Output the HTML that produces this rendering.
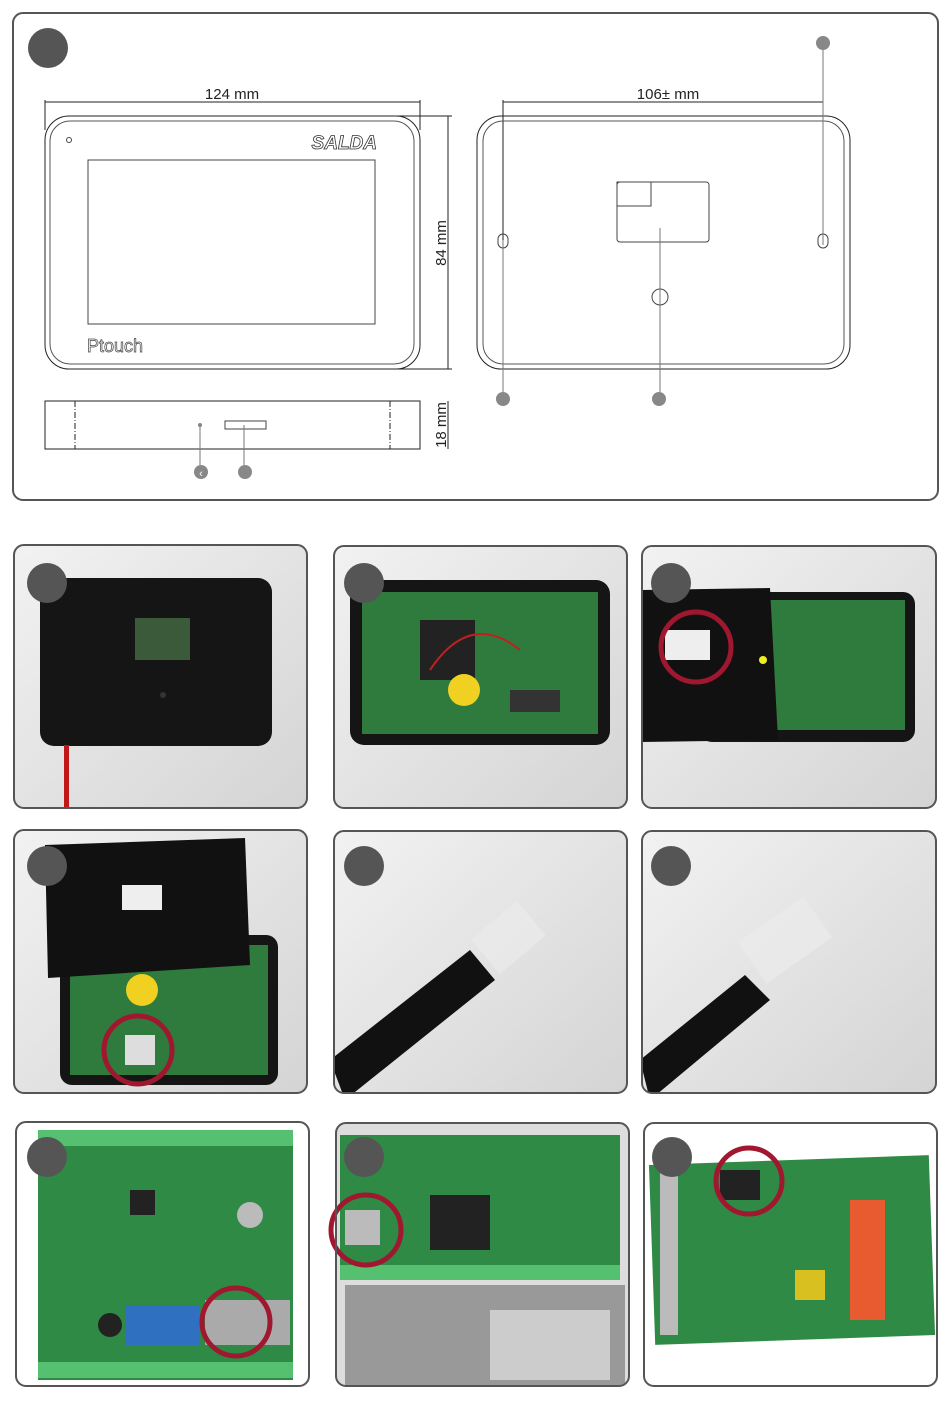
<!DOCTYPE html>
<html><head><meta charset="utf-8"><style>
html,body{margin:0;padding:0;background:#fff}
svg{display:block}
text{font-family:"Liberation Sans",sans-serif}
</style></head><body>
<svg width="950" height="1403" viewBox="0 0 950 1403" xmlns="http://www.w3.org/2000/svg">
<defs>
<linearGradient id="bg" x1="0" y1="0" x2="1" y2="1"><stop offset="0" stop-color="#f2f2f2"/><stop offset="1" stop-color="#d4d4d4"/></linearGradient>
<clipPath id="c1"><rect x="14" y="545" width="293" height="263" rx="10"/></clipPath>
<clipPath id="c2"><rect x="334" y="546" width="293" height="262" rx="10"/></clipPath>
<clipPath id="c3"><rect x="642" y="546" width="294" height="262" rx="10"/></clipPath>
<clipPath id="c4"><rect x="14" y="830" width="293" height="263" rx="10"/></clipPath>
<clipPath id="c5"><rect x="334" y="831" width="293" height="262" rx="10"/></clipPath>
<clipPath id="c6"><rect x="642" y="831" width="294" height="262" rx="10"/></clipPath>
<clipPath id="c7"><rect x="16" y="1122" width="293" height="264" rx="10"/></clipPath>
<clipPath id="c8"><rect x="336" y="1123" width="293" height="263" rx="10"/></clipPath>
<clipPath id="c9"><rect x="644" y="1123" width="293" height="263" rx="10"/></clipPath>
</defs>

<!-- Top panel -->
<rect x="13" y="13" width="925" height="487" rx="10" fill="#fff" stroke="#555" stroke-width="2"/>
<circle cx="48" cy="48" r="20" fill="#555"/>
<!-- front view -->
<line x1="45" y1="102" x2="420" y2="102" stroke="#222"/>
<line x1="45" y1="100" x2="45" y2="130" stroke="#222"/>
<line x1="420" y1="100" x2="420" y2="130" stroke="#222"/>
<text x="232" y="99" font-size="15" text-anchor="middle" fill="#222">124 mm</text>
<rect x="45" y="116" width="375" height="253" rx="24" fill="none" stroke="#222"/>
<rect x="50" y="121" width="364" height="243" rx="20" fill="none" stroke="#555"/>
<circle cx="69" cy="140" r="2.5" fill="none" stroke="#444"/>
<text x="377" y="149" font-size="19" font-style="italic" font-weight="bold" text-anchor="end" fill="#fff" stroke="#333" stroke-width="0.8">SALDA</text>
<rect x="88" y="160" width="287" height="164" fill="none" stroke="#444"/>
<text x="87" y="352" font-size="18" fill="#fff" stroke="#444" stroke-width="0.7">Ptouch</text>
<line x1="395" y1="116" x2="452" y2="116" stroke="#222"/>
<line x1="395" y1="369" x2="452" y2="369" stroke="#222"/>
<line x1="448" y1="116" x2="448" y2="369" stroke="#222"/>
<text transform="translate(446,243) rotate(-90)" font-size="15" text-anchor="middle" fill="#222">84 mm</text>
<!-- side view -->
<rect x="45" y="401" width="375" height="48" fill="none" stroke="#222"/>
<line x1="75" y1="401" x2="75" y2="449" stroke="#222" stroke-dasharray="6,2,1,2"/>
<line x1="390" y1="401" x2="390" y2="449" stroke="#222" stroke-dasharray="6,2,1,2"/>
<rect x="225" y="421" width="41" height="8" fill="none" stroke="#444"/>
<circle cx="200" cy="425" r="2" fill="#888"/>
<line x1="200" y1="425" x2="200" y2="465" stroke="#777"/>
<line x1="244" y1="425" x2="244" y2="465" stroke="#777"/>
<circle cx="201" cy="472" r="7" fill="#888"/>
<text x="201" y="477" font-size="11" fill="#fff" text-anchor="middle">‹</text>
<circle cx="245" cy="472" r="7" fill="#888"/>
<line x1="448" y1="401" x2="448" y2="449" stroke="#222"/>
<text transform="translate(446,425) rotate(-90)" font-size="15" text-anchor="middle" fill="#222">18 mm</text>
<!-- back view -->
<line x1="503" y1="102" x2="823" y2="102" stroke="#222"/>
<line x1="503" y1="100" x2="503" y2="240" stroke="#222"/>
<text x="668" y="99" font-size="15" text-anchor="middle" fill="#222">106± mm</text>
<rect x="477" y="116" width="373" height="253" rx="24" fill="none" stroke="#222"/>
<rect x="483" y="121" width="361" height="243" rx="20" fill="none" stroke="#555"/>
<rect x="617" y="182" width="92" height="60" rx="3" fill="none" stroke="#444"/>
<rect x="617" y="182" width="34" height="24" fill="none" stroke="#444"/>
<circle cx="660" cy="297" r="8" fill="none" stroke="#444"/>
<rect x="498" y="234" width="10" height="14" rx="5" fill="none" stroke="#444"/>
<rect x="818" y="234" width="10" height="14" rx="5" fill="none" stroke="#444"/>
<line x1="503" y1="240" x2="503" y2="392" stroke="#777"/>
<line x1="660" y1="228" x2="660" y2="392" stroke="#777"/>
<line x1="823" y1="50" x2="823" y2="245" stroke="#777"/>
<circle cx="503" cy="399" r="7" fill="#888"/>
<circle cx="659" cy="399" r="7" fill="#888"/>
<circle cx="823" cy="43" r="7" fill="#888"/>

<!-- Panel 1 -->
<g clip-path="url(#c1)"><rect x="14" y="545" width="293" height="263" fill="url(#bg)"/>
<rect x="40" y="578" width="232" height="168" rx="14" fill="#151515"/>
<rect x="135" y="618" width="55" height="42" fill="#3a5a3a"/>
<circle cx="163" cy="695" r="3" fill="#333"/>
<rect x="64" y="745" width="5" height="70" fill="#c01818"/></g>
<rect x="14" y="545" width="293" height="263" rx="10" fill="none" stroke="#555" stroke-width="2"/>
<circle cx="47" cy="583" r="20" fill="#555"/>

<!-- Panel 2 -->
<g clip-path="url(#c2)"><rect x="334" y="546" width="293" height="262" fill="url(#bg)"/>
<rect x="350" y="580" width="260" height="165" rx="14" fill="#151515"/>
<rect x="362" y="592" width="236" height="142" fill="#2f7a3d"/>
<rect x="420" y="620" width="55" height="60" fill="#222"/>
<circle cx="464" cy="690" r="16" fill="#f0d020"/>
<rect x="510" y="690" width="50" height="22" fill="#333"/>
<path d="M430 670 Q470 610 520 650" stroke="#c02020" fill="none" stroke-width="2"/></g>
<rect x="334" y="546" width="293" height="262" rx="10" fill="none" stroke="#555" stroke-width="2"/>
<circle cx="364" cy="583" r="20" fill="#555"/>

<!-- Panel 3 -->
<g clip-path="url(#c3)"><rect x="642" y="546" width="294" height="262" fill="url(#bg)"/>
<rect x="700" y="592" width="215" height="150" rx="12" fill="#151515"/>
<rect x="710" y="600" width="195" height="130" fill="#2f7a3d"/>
<path d="M642 590 L770 588 L778 740 L642 742 Z" fill="#111"/>
<rect x="665" y="630" width="45" height="30" fill="#eee"/>
<circle cx="763" cy="660" r="4" fill="#ee2"/></g>
<circle cx="696" cy="647" r="35" fill="none" stroke="#a01830" stroke-width="5"/>
<rect x="642" y="546" width="294" height="262" rx="10" fill="none" stroke="#555" stroke-width="2"/>
<circle cx="671" cy="583" r="20" fill="#555"/>

<!-- Panel 4 -->
<g clip-path="url(#c4)"><rect x="14" y="830" width="293" height="263" fill="url(#bg)"/>
<rect x="60" y="935" width="218" height="150" rx="12" fill="#151515"/>
<rect x="70" y="945" width="198" height="130" fill="#2f7a3d"/>
<circle cx="142" cy="990" r="16" fill="#f0d020"/>
<path d="M45 845 L245 838 L250 965 L48 978 Z" fill="#111"/>
<rect x="122" y="885" width="40" height="25" fill="#eee"/>
<rect x="125" y="1035" width="30" height="30" fill="#ddd"/></g>
<circle cx="138" cy="1050" r="34" fill="none" stroke="#a01830" stroke-width="5"/>
<rect x="14" y="830" width="293" height="263" rx="10" fill="none" stroke="#555" stroke-width="2"/>
<circle cx="47" cy="866" r="20" fill="#555"/>

<!-- Panel 5 -->
<g clip-path="url(#c5)"><rect x="334" y="831" width="293" height="262" fill="url(#bg)"/>
<path d="M330 1060 L470 950 L495 980 L345 1100 Z" fill="#111"/>
<rect x="478" y="915" width="60" height="45" fill="#eaeaea" opacity="0.8" transform="rotate(-40 508 937)"/></g>
<rect x="334" y="831" width="293" height="262" rx="10" fill="none" stroke="#555" stroke-width="2"/>
<circle cx="364" cy="866" r="20" fill="#555"/>

<!-- Panel 6 -->
<g clip-path="url(#c6)"><rect x="642" y="831" width="294" height="262" fill="url(#bg)"/>
<path d="M640 1060 L745 975 L770 1000 L650 1100 Z" fill="#111"/>
<rect x="745" y="915" width="80" height="50" fill="#eaeaea" opacity="0.85" transform="rotate(-35 785 940)"/></g>
<rect x="642" y="831" width="294" height="262" rx="10" fill="none" stroke="#555" stroke-width="2"/>
<circle cx="671" cy="866" r="20" fill="#555"/>

<!-- Panel 7 -->
<g clip-path="url(#c7)"><rect x="16" y="1122" width="293" height="264" fill="#fff"/>
<rect x="38" y="1130" width="255" height="250" fill="#2f8a45"/>
<rect x="38" y="1130" width="255" height="16" fill="#55c070"/>
<rect x="38" y="1362" width="255" height="16" fill="#55c070"/>
<rect x="130" y="1190" width="25" height="25" fill="#222"/>
<circle cx="250" cy="1215" r="13" fill="#bbb"/>
<rect x="125" y="1305" width="75" height="40" fill="#3070c0"/>
<rect x="205" y="1300" width="85" height="45" fill="#aaa"/>
<circle cx="110" cy="1325" r="12" fill="#222"/></g>
<circle cx="236" cy="1322" r="34" fill="none" stroke="#a01830" stroke-width="5"/>
<rect x="16" y="1122" width="293" height="264" rx="10" fill="none" stroke="#555" stroke-width="2"/>
<circle cx="47" cy="1157" r="20" fill="#555"/>

<!-- Panel 8 -->
<g clip-path="url(#c8)"><rect x="336" y="1123" width="293" height="263" fill="#ddd"/>
<rect x="340" y="1135" width="280" height="130" fill="#2f8a45"/>
<rect x="340" y="1265" width="280" height="15" fill="#55c070"/>
<rect x="430" y="1195" width="60" height="55" fill="#222"/>
<rect x="345" y="1210" width="35" height="35" fill="#bbb"/>
<rect x="345" y="1285" width="280" height="100" fill="#999"/>
<rect x="490" y="1310" width="120" height="70" fill="#ccc"/></g>
<circle cx="366" cy="1230" r="35" fill="none" stroke="#a01830" stroke-width="5"/>
<rect x="336" y="1123" width="293" height="263" rx="10" fill="none" stroke="#555" stroke-width="2"/>
<circle cx="364" cy="1157" r="20" fill="#555"/>

<!-- Panel 9 -->
<g clip-path="url(#c9)"><rect x="644" y="1123" width="293" height="263" fill="#fff"/>
<rect x="652" y="1160" width="280" height="180" fill="#2f8a45" transform="rotate(-2 792 1250)"/>
<rect x="660" y="1165" width="18" height="170" fill="#bbb"/>
<rect x="850" y="1200" width="35" height="120" fill="#e85a30"/>
<rect x="795" y="1270" width="30" height="30" fill="#d8c020"/>
<rect x="720" y="1170" width="40" height="30" fill="#222"/></g>
<circle cx="749" cy="1181" r="33" fill="none" stroke="#a01830" stroke-width="5"/>
<rect x="644" y="1123" width="293" height="263" rx="10" fill="none" stroke="#555" stroke-width="2"/>
<circle cx="672" cy="1157" r="20" fill="#555"/>
</svg>
</body></html>
